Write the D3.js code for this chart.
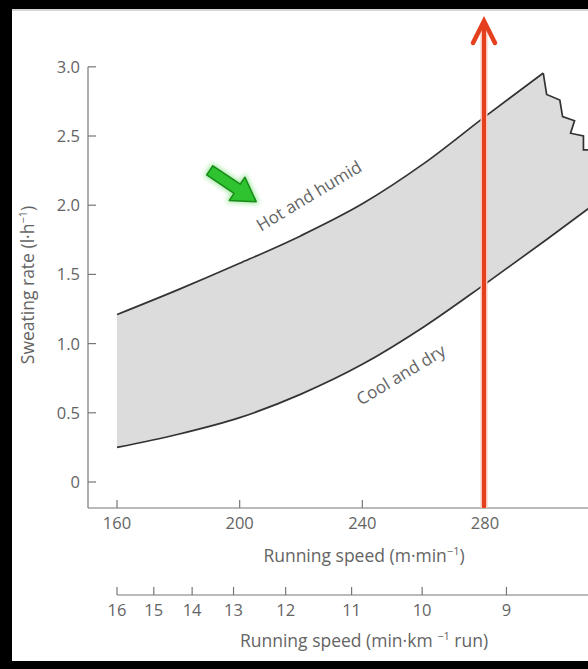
<!DOCTYPE html>
<html><head><meta charset="utf-8">
<script src="https://cdn.jsdelivr.net/npm/d3@7"></script>
<style>html,body{margin:0;padding:0;background:#fff}svg{display:block}</style>
</head><body>
<svg id="c" width="588" height="669"></svg>
<script>
// ---- data ----
const speedTicks = [160, 200, 240, 280];
const rateTicks = [0, 0.5, 1.0, 1.5, 2.0, 2.5, 3.0];
const rateTickLabels = ["0", "0.5", "1.0", "1.5", "2.0", "2.5", "3.0"];
const paceLabels = [16, 15, 14, 13, 12, 11, 10, 9];
const paceTickSpeeds = [160, 172, 184.5, 198, 215, 236.5, 259.5, 287];
const hotSpeed = [160, 180, 200, 220, 240, 260, 280, 299];
const hotRate = [1.21, 1.39, 1.58, 1.78, 2.01, 2.30, 2.64, 2.955];
const coolSpeed = [160, 180, 200, 220, 240, 260, 280, 300, 314];
const coolRate = [0.25, 0.345, 0.465, 0.635, 0.85, 1.12, 1.43, 1.75, 1.98];
const zigSpeed = [299, 300.1, 304.4, 305.3, 309.2, 307.9, 312.1, 312.1, 314];
const zigRate = [2.955, 2.80, 2.76, 2.64, 2.61, 2.52, 2.50, 2.40, 2.40];
const markerSpeed = 280;

// ---- layout ----
const W = 588, H = 669;
const svg = d3.select("#c");
const x = d3.scaleLinear().domain([160, 280]).range([117, 485]);
const y = d3.scaleLinear().domain([0, 3]).range([482, 66.8]);
const axisX0 = 88, axisY0 = 508, axis2Y = 595;
const font = "'Open Sans', 'Noto Sans', sans-serif";
const txt = "#646464";
const tickFs = 16.5, titleFs = 17.5;

const defs = svg.append("defs");
defs.append("clipPath").attr("id", "plot").append("rect")
  .attr("x", axisX0).attr("y", 0).attr("width", W - axisX0).attr("height", axisY0);
const glow = defs.append("filter").attr("id", "glow").attr("x", "-50%").attr("y", "-50%").attr("width", "200%").attr("height", "200%");
glow.append("feGaussianBlur").attr("stdDeviation", 2.5);

// ---- band ----
const hot = hotSpeed.map((s, i) => [s, hotRate[i]]);
const cool = coolSpeed.map((s, i) => [s, coolRate[i]]);
const zig = zigSpeed.map((s, i) => [s, zigRate[i]]);
const line = d3.line().x(d => x(d[0])).y(d => y(d[1])).curve(d3.curveMonotoneX);
const lineLin = d3.line().x(d => x(d[0])).y(d => y(d[1]));

const g = svg.append("g").attr("clip-path", "url(#plot)");
const upperD = line(hot);
const zigD = lineLin(zig);
const coolRev = cool.slice().reverse();
const lowerRevD = line(coolRev);
const areaD = upperD + "L" + zigD.slice(1) + "L" + lowerRevD.slice(1) + "Z";
g.append("path").attr("d", areaD).attr("fill", "#dcdcdc").attr("stroke", "none");
g.append("path").attr("d", upperD).attr("fill", "none").attr("stroke", "#333").attr("stroke-width", 1.7);
g.append("path").attr("d", zigD).attr("fill", "none").attr("stroke", "#333").attr("stroke-width", 1.7).attr("stroke-linejoin", "miter");
g.append("path").attr("d", line(cool)).attr("fill", "none").attr("stroke", "#333").attr("stroke-width", 1.7);

// ---- y axis ----
const axG = svg.append("g");
axG.append("line").attr("x1", axisX0).attr("x2", axisX0).attr("y1", y(3)).attr("y2", axisY0)
  .attr("stroke", "#777").attr("stroke-width", 1.2);
rateTicks.forEach((v, i) => {
  axG.append("line").attr("x1", axisX0).attr("x2", axisX0 + 8).attr("y1", y(v)).attr("y2", y(v))
    .attr("stroke", "#777").attr("stroke-width", 1.2);
  axG.append("text").attr("x", 80).attr("y", y(v)).attr("dy", "0.36em").attr("text-anchor", "end")
    .attr("font-family", font).attr("font-size", tickFs).attr("fill", txt).text(rateTickLabels[i]);
});
const yl = svg.append("text").attr("transform", `translate(34,${285}) rotate(-90)`)
  .attr("text-anchor", "middle").attr("font-family", font).attr("font-size", titleFs).attr("fill", txt);
yl.append("tspan").text("Sweating rate (l·h");
yl.append("tspan").attr("font-size", 11).attr("dy", -7).text("−1");
yl.append("tspan").attr("dy", 7).text(")");

// ---- x axis (m/min) ----
axG.append("line").attr("x1", axisX0).attr("x2", W).attr("y1", axisY0).attr("y2", axisY0)
  .attr("stroke", "#777").attr("stroke-width", 1.2);
speedTicks.forEach(v => {
  axG.append("line").attr("x1", x(v)).attr("x2", x(v)).attr("y1", axisY0).attr("y2", axisY0 - 8)
    .attr("stroke", "#777").attr("stroke-width", 1.2);
  axG.append("text").attr("x", x(v)).attr("y", 523).attr("dy", "0.36em").attr("text-anchor", "middle")
    .attr("font-family", font).attr("font-size", tickFs).attr("fill", txt).text(v);
});
const xl = svg.append("text").attr("x", 364).attr("y", 562).attr("text-anchor", "middle")
  .attr("font-family", font).attr("font-size", titleFs).attr("fill", txt);
xl.append("tspan").text("Running speed (m·min");
xl.append("tspan").attr("font-size", 11).attr("dy", -7).text("−1");
xl.append("tspan").attr("dy", 7).text(")");

// ---- second axis (min/km) ----
axG.append("line").attr("x1", x(paceTickSpeeds[0])).attr("x2", W).attr("y1", axis2Y).attr("y2", axis2Y)
  .attr("stroke", "#777").attr("stroke-width", 1.2);
paceTickSpeeds.forEach((s, i) => {
  axG.append("line").attr("x1", x(s)).attr("x2", x(s)).attr("y1", axis2Y).attr("y2", axis2Y - 8)
    .attr("stroke", "#777").attr("stroke-width", 1.2);
  axG.append("text").attr("x", x(s)).attr("y", 610).attr("dy", "0.36em").attr("text-anchor", "middle")
    .attr("font-family", font).attr("font-size", tickFs).attr("fill", txt).text(paceLabels[i]);
});
const xl2 = svg.append("text").attr("x", 364).attr("y", 647).attr("text-anchor", "middle")
  .attr("font-family", font).attr("font-size", titleFs).attr("fill", txt);
xl2.append("tspan").text("Running speed (min·km ");
xl2.append("tspan").attr("font-size", 11).attr("dy", -7).text("−1");
xl2.append("tspan").attr("dy", 7).text(" run)");

// ---- curve labels ----
svg.append("text").attr("transform", "translate(312,201) rotate(-31)").attr("text-anchor", "middle")
  .attr("font-family", font).attr("font-size", 17).attr("fill", txt).text("Hot and humid");
svg.append("text").attr("transform", "translate(404,380) rotate(-31)").attr("text-anchor", "middle")
  .attr("font-family", font).attr("font-size", 17).attr("fill", txt).text("Cool and dry");

// ---- green arrow ----
const arrowPath = "M-28,-5.5 L5,-5.5 L5,-14 L28,0 L5,14 L5,5.5 L-28,5.5 Z";
const ga = svg.append("g").attr("transform", "translate(233,186) rotate(34)");
ga.append("path").attr("d", arrowPath).attr("fill", "#9be89b").attr("stroke", "#9be89b").attr("stroke-width", 4).attr("filter", "url(#glow)");
ga.append("path").attr("d", arrowPath).attr("fill", "#2fc42f").attr("stroke", "#178a17").attr("stroke-width", 1.5).attr("stroke-linejoin", "round");

// ---- red marker arrow ----
const rx = x(markerSpeed) - 1;
const rg = svg.append("g");
rg.append("line").attr("x1", rx).attr("x2", rx).attr("y1", axisY0).attr("y2", 24)
  .attr("stroke", "#f9c6b8").attr("stroke-width", 7);
rg.append("line").attr("x1", rx).attr("x2", rx).attr("y1", axisY0).attr("y2", 22)
  .attr("stroke", "#e4401e").attr("stroke-width", 4);
rg.append("path").attr("d", `M${rx - 11},${43} L${rx},${21} L${rx + 11},${43}`)
  .attr("fill", "none").attr("stroke", "#e4401e").attr("stroke-width", 4.5).attr("stroke-linejoin", "miter").attr("stroke-linecap", "round");

// ---- frame ----
svg.append("rect").attr("x", 0).attr("y", 0).attr("width", W).attr("height", 9).attr("fill", "#000");
svg.append("rect").attr("x", 0).attr("y", 0).attr("width", 12).attr("height", H).attr("fill", "#000");
svg.append("rect").attr("x", 0).attr("y", 661).attr("width", W).attr("height", 8).attr("fill", "#000");
svg.append("line").attr("x1", 12).attr("x2", W).attr("y1", 10).attr("y2", 10).attr("stroke", "#aaa").attr("stroke-width", 1);
</script>
</body></html>
